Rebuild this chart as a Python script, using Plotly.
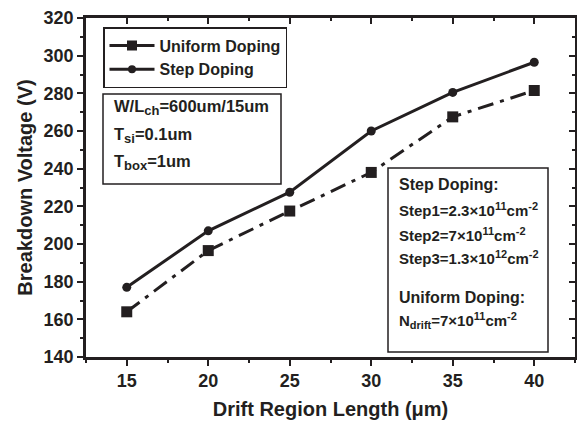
import plotly.graph_objects as go

# Drift region length (um)
drift_length = [15, 20, 25, 30, 35, 40]
# Breakdown voltage (V)
bv_step = [177, 207, 227.5, 260, 280.5, 296.5]
bv_uniform = [164, 196.5, 217.5, 238, 267.5, 281.5]

x_ticks = [15, 20, 25, 30, 35, 40]
y_ticks = [140, 160, 180, 200, 220, 240, 260, 280, 300, 320]

INK = "#231f20"
FONT = "Liberation Sans"

# plot area in pixels (577 x 425 page)
L, R, T, B = 86, 575, 18, 357
W, H = 577, 425


def px(x):
    return (x - L) / (R - L)


def py(y):
    return (B - y) / (B - T)


def sub(t, size=13):
    return f"<sub><span style='font-size:{size}px'>{t}</span></sub>"


def sup(t, size=11):
    return f"<sup><span style='font-size:{size}px'>{t}</span></sup>"


fig = go.Figure()

fig.add_trace(go.Scatter(
    x=drift_length, y=bv_step, mode="lines+markers", showlegend=False,
    line=dict(color=INK, width=3),
    marker=dict(symbol="circle", size=9, color=INK),
))
fig.add_trace(go.Scatter(
    x=drift_length, y=bv_uniform, mode="lines+markers", showlegend=False,
    line=dict(color=INK, width=3, dash="16px,7px,4px,7px"),
    marker=dict(symbol="square", size=11, color=INK),
))

# legend entries
fig.add_trace(go.Scatter(
    x=[None], y=[None], mode="lines+markers", name="Uniform Doping",
    line=dict(color=INK, width=3), marker=dict(symbol="square", size=10, color=INK),
))
fig.add_trace(go.Scatter(
    x=[None], y=[None], mode="lines+markers", name="Step Doping",
    line=dict(color=INK, width=3), marker=dict(symbol="circle", size=8, color=INK),
))

# mirrored axes carrying the inward ticks on top and right
fig.add_trace(go.Scatter(x=[None], y=[None], xaxis="x2", yaxis="y2", showlegend=False))

axis_common = dict(showline=True, linecolor=INK, linewidth=2.5, showgrid=False,
                   zeroline=False, tickcolor=INK, tickwidth=2)

fig.update_layout(
    width=W, height=H,
    margin=dict(l=L, r=W - R, t=T, b=H - B),
    paper_bgcolor="white", plot_bgcolor="white",
    font=dict(family=FONT, color=INK),
    xaxis=dict(range=[12.5, 42.5], tickvals=x_ticks, ticks="outside", ticklen=6,
               minor=dict(dtick=2.5, tick0=12.5, ticks="outside", ticklen=3, tickcolor=INK, tickwidth=2),
               tickfont=dict(size=18, family=FONT, weight="bold"),
               title=dict(text="Drift Region Length (μm)", standoff=12,
                          font=dict(size=20, family=FONT, weight="bold")),
               **axis_common),
    yaxis=dict(range=[140, 320], tickvals=y_ticks, ticks="outside", ticklen=6,
               minor=dict(dtick=10, tick0=140, ticks="outside", ticklen=3, tickcolor=INK, tickwidth=2),
               tickfont=dict(size=18, family=FONT, weight="bold"),
               title=dict(text="Breakdown Voltage (V)", standoff=6,
                          font=dict(size=20, family=FONT, weight="bold")),
               **axis_common),
    xaxis2=dict(range=[12.5, 42.5], overlaying="x", side="top", tickvals=x_ticks,
                ticks="inside", ticklen=6, showticklabels=False,
                minor=dict(dtick=2.5, tick0=12.5, ticks="inside", ticklen=3, tickcolor=INK, tickwidth=2),
                **axis_common),
    yaxis2=dict(range=[140, 320], overlaying="y", side="right", tickvals=y_ticks,
                ticks="inside", ticklen=6, showticklabels=False,
                minor=dict(dtick=10, tick0=140, ticks="inside", ticklen=3, tickcolor=INK, tickwidth=2),
                **axis_common),
    legend=dict(x=px(103), y=py(27), xanchor="left", yanchor="top",
                bgcolor="white", bordercolor=INK, borderwidth=1.5,
                font=dict(size=16, family=FONT, weight="bold"),
                itemwidth=45, tracegroupgap=0),
)

# parameter box
fig.add_shape(type="rect", xref="paper", yref="paper",
              x0=px(103), x1=px(281), y0=py(184), y1=py(94),
              line=dict(color=INK, width=1.5), fillcolor="white", layer="above")
box2 = [f"W/L{sub('ch')}=600um/15um", f"T{sub('si')}=0.1um", f"T{sub('box')}=1um"]
box2_y = [108, 135, 162]
for txt, yy in zip(box2, box2_y):
    fig.add_annotation(text=txt, xref="paper", yref="paper", x=px(112), y=py(yy),
                       xanchor="left", yanchor="middle", showarrow=False,
                       font=dict(size=16.5, family=FONT, weight="bold", color=INK))

# doping box
fig.add_shape(type="rect", xref="paper", yref="paper",
              x0=px(388), x1=px(548), y0=py(352), y1=py(168),
              line=dict(color=INK, width=1.5), fillcolor="white", layer="above")
box3 = [
    ("Step Doping:", 184, 16),
    (f"Step1=2.3×10{sup('11')}cm{sup('-2')}", 209, 15),
    (f"Step2=7×10{sup('11')}cm{sup('-2')}", 234, 15),
    (f"Step3=1.3×10{sup('12')}cm{sup('-2')}", 257, 15),
    ("Uniform Doping:", 297, 16),
    (f"N{sub('drift', 11)}=7×10{sup('11')}cm{sup('-2')}", 320, 15),
]
for txt, yy, fs in box3:
    fig.add_annotation(text=txt, xref="paper", yref="paper", x=px(397), y=py(yy),
                       xanchor="left", yanchor="middle", showarrow=False,
                       font=dict(size=fs, family=FONT, weight="bold", color=INK))

fig.write_html("out.html")
